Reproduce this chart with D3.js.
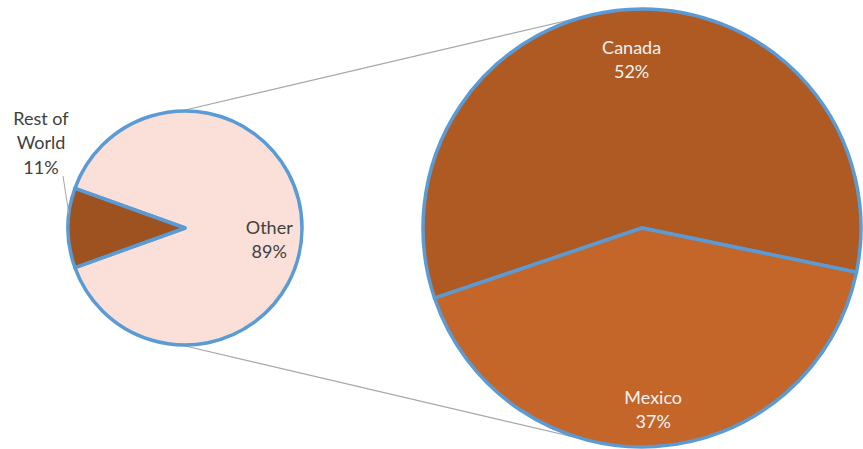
<!DOCTYPE html>
<html>
<head>
<meta charset="utf-8">
<script src="https://cdn.jsdelivr.net/npm/d3@7"></script>
<style>
  html, body { margin: 0; padding: 0; background: #fff; }
  svg { display: block; }
  text { font-family: Lato, "Open Sans", sans-serif; font-size: 18px; }
</style>
</head>
<body>
<svg id="chart" width="863" height="449"></svg>
<script>
// ---- data ----
const mainCategories = ["Other", "Rest of World"];
const mainValues = [89, 11];
const mainLabels = ["89%", "11%"];
const subCategories = ["Canada", "Mexico"];
const subValues = [52, 37];
const subLabels = ["52%", "37%"];

// ---- layout / style ----
const left = { cx: 185, cy: 228, r: 117 };
const right = { cx: 642, cy: 228, r: 219 };
const mainColors = ["#FAE0D8", "#9D521F"];
const subColors = ["#AF5A22", "#C4652A"];
const strokeBlue = "#5B9BD5";
const strokeW = 3.5;
const deg = Math.PI / 180;

const svg = d3.select("#chart");

// ---- connector lines (behind pies) ----
function tangentPoint(px, py, c, upper) {
  const dx = c.cx - px, dy = c.cy - py;
  const d = Math.hypot(dx, dy);
  const base = Math.atan2(dy, dx);
  const a = Math.asin(c.r / d);
  const L = Math.sqrt(d * d - c.r * c.r);
  const ang = upper ? base - a : base + a;
  return [px + L * Math.cos(ang), py + L * Math.sin(ang)];
}
const topStart = [left.cx - 4, left.cy - left.r];
const botStart = [left.cx - 4, left.cy + left.r];
const conn = [
  [topStart, tangentPoint(topStart[0], topStart[1], right, true)],
  [botStart, tangentPoint(botStart[0], botStart[1], right, false)]
];
svg.append("g").selectAll("line").data(conn).join("line")
  .attr("x1", d => d[0][0]).attr("y1", d => d[0][1])
  .attr("x2", d => d[1][0]).attr("y2", d => d[1][1])
  .attr("stroke", "#A6A6A6").attr("stroke-width", 1.2);

// ---- left (main) pie ----
const otherShare = mainValues[0] / d3.sum(mainValues);
const mainStart = Math.PI / 2 - otherShare * Math.PI;
const pieMain = d3.pie().sort(null).value(d => d)
  .startAngle(mainStart).endAngle(mainStart + 2 * Math.PI);
const arcsMain = pieMain(mainValues);
const arcMain = d3.arc().innerRadius(0).outerRadius(left.r);

const gL = svg.append("g").attr("transform", `translate(${left.cx},${left.cy})`);
gL.selectAll("path").data(arcsMain).join("path")
  .attr("d", arcMain)
  .attr("fill", (d, i) => mainColors[i])
  .attr("stroke", strokeBlue).attr("stroke-width", strokeW)
  .attr("stroke-linejoin", "round");

// "Other" label inside
const otherLabelArc = d3.arc().innerRadius(left.r * 0.72).outerRadius(left.r * 0.72);
const oc = otherLabelArc.centroid(arcsMain[0]);
const tOther = gL.append("text").attr("text-anchor", "middle").attr("fill", "#404040")
  .attr("transform", `translate(${oc[0]},${oc[1] + 12})`);
tOther.append("tspan").attr("x", 0).attr("y", -12).attr("dy", "0.35em").text(mainCategories[0]);
tOther.append("tspan").attr("x", 0).attr("y", 12).attr("dy", "0.35em").text(mainLabels[0]);

// "Rest of World" label outside with leader line
const row = arcsMain[1];
const rowMid = (row.startAngle + row.endAngle) / 2;
const leaderAng = rowMid + (row.endAngle - rowMid) * 0.35;
const leaderEnd = [left.r * Math.sin(leaderAng), -left.r * Math.cos(leaderAng)];
const rowLabelPos = [-(left.r + 27), -85];
gL.append("line")
  .attr("x1", rowLabelPos[0] + 22).attr("y1", rowLabelPos[1] + 33)
  .attr("x2", leaderEnd[0]).attr("y2", leaderEnd[1])
  .attr("stroke", "#A6A6A6").attr("stroke-width", 1);
const rowWords = ["Rest of", "World", mainLabels[1]];
const tRow = gL.append("text").attr("text-anchor", "middle").attr("fill", "#404040")
  .attr("transform", `translate(${rowLabelPos[0]},${rowLabelPos[1]})`);
tRow.selectAll("tspan").data(rowWords).join("tspan")
  .attr("x", 0).attr("y", (d, i) => (i - 1) * 24.5).attr("dy", "0.35em").text(d => d);

// ---- right (sub) pie ----
const subStart = -108.7 * deg;
const pieSub = d3.pie().sort(null).value(d => d)
  .startAngle(subStart).endAngle(subStart + 2 * Math.PI);
const arcsSub = pieSub(subValues);
const arcSub = d3.arc().innerRadius(0).outerRadius(right.r);
const gR = svg.append("g").attr("transform", `translate(${right.cx},${right.cy})`);
gR.selectAll("path").data(arcsSub).join("path")
  .attr("d", arcSub)
  .attr("fill", (d, i) => subColors[i])
  .attr("stroke", strokeBlue).attr("stroke-width", strokeW)
  .attr("stroke-linejoin", "round");

const subLabelRadius = [right.r * 0.77, right.r * 0.83];
arcsSub.forEach((a, i) => {
  const la = d3.arc().innerRadius(subLabelRadius[i]).outerRadius(subLabelRadius[i]);
  const c = la.centroid(a);
  const t = gR.append("text").attr("text-anchor", "middle").attr("fill", "#F2F2F2")
    .attr("transform", `translate(${c[0]},${c[1]})`);
  t.append("tspan").attr("x", 0).attr("y", -12).attr("dy", "0.35em").text(subCategories[i]);
  t.append("tspan").attr("x", 0).attr("y", 12).attr("dy", "0.35em").text(subLabels[i]);
});
</script>
</body>
</html>
